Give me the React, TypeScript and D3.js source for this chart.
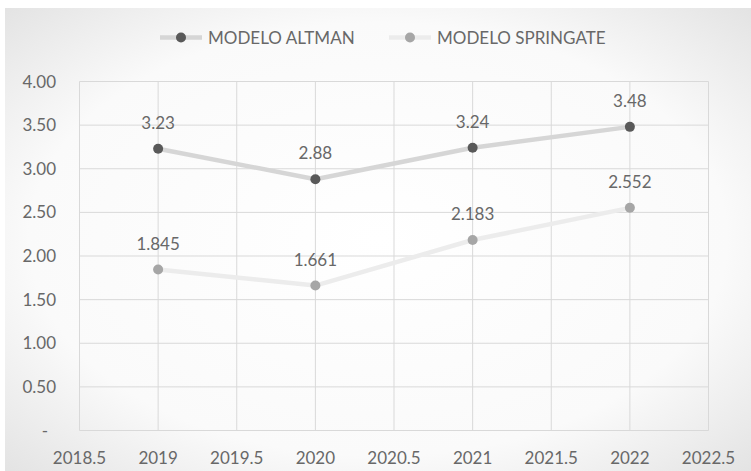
import React from "react";
import * as d3 from "d3";

const years = [2019, 2020, 2021, 2022];
const altman = [3.23, 2.88, 3.24, 3.48];
const springate = [1.845, 1.661, 2.183, 2.552];
const altmanLabels = ["3.23", "2.88", "3.24", "3.48"];
const springateLabels = ["1.845", "1.661", "2.183", "2.552"];
const yTicks = [0, 0.5, 1, 1.5, 2, 2.5, 3, 3.5, 4];
const xTicks = [2018.5, 2019, 2019.5, 2020, 2020.5, 2021, 2021.5, 2022, 2022.5];
const seriesNames = ["MODELO ALTMAN", "MODELO SPRINGATE"];

const W = 751;
const H = 471;
const FONT = "Lato, 'Open Sans', sans-serif";
const TEXT = "#686868";

export default function App() {
  const x = d3.scaleLinear().domain([2018.5, 2022.5]).range([79.5, 708.5]);
  const y = d3.scaleLinear().domain([0, 4]).range([430.5, 81.5]);
  const line = d3
    .line<number>()
    .x((_, i) => x(years[i]))
    .y((d) => y(d));

  const series = [
    { name: seriesNames[0], values: altman, labels: altmanLabels, line: "#d6d6d6", dot: "#595959" },
    { name: seriesNames[1], values: springate, labels: springateLabels, line: "#ececec", dot: "#a6a6a6" },
  ];

  const legend = [
    { lx: 160, tx: 208 },
    { lx: 389, tx: 437 },
  ];
  const LY = 37.5;

  return (
    <svg
      width={W}
      height={H}
      style={{ position: "absolute", left: 0, top: 0, fontFamily: FONT }}
    >
      <defs>
        <radialGradient id="bg" cx="50%" cy="50%" r="72%">
          <stop offset="0%" stopColor="#ffffff" />
          <stop offset="65%" stopColor="#fafafa" />
          <stop offset="100%" stopColor="#e2e2e2" />
        </radialGradient>
      </defs>
      <rect x={0} y={0} width={W} height={H} fill="#ffffff" />
      <rect x={5} y={8} width={W - 5} height={H - 8} fill="url(#bg)" />

      {/* grid */}
      {yTicks.map((t) => (
        <line key={"gy" + t} x1={x(2018.5)} x2={x(2022.5)} y1={y(t)} y2={y(t)} stroke="#d9d9d9" strokeWidth={1} />
      ))}
      {xTicks.map((t) => (
        <line key={"gx" + t} x1={x(t)} x2={x(t)} y1={y(0)} y2={y(4)} stroke="#d9d9d9" strokeWidth={1} />
      ))}

      {/* y labels */}
      {yTicks.map((t) => (
        <text key={"yl" + t} x={t === 0 ? 48 : 56} y={y(t)} dy="0.36em" textAnchor="end" fontSize={17} fill={TEXT}>
          {t === 0 ? "-" : d3.format(".2f")(t)}
        </text>
      ))}
      {/* x labels */}
      {xTicks.map((t) => (
        <text key={"xl" + t} x={x(t)} y={458} dy="0.36em" textAnchor="middle" fontSize={17} fill={TEXT}>
          {String(t)}
        </text>
      ))}

      {/* series */}
      {series.map((s) => (
        <g key={s.name}>
          <path d={line(s.values) || ""} fill="none" stroke={s.line} strokeWidth={4.5} strokeLinejoin="round" />
          {s.values.map((v, i) => (
            <circle key={i} cx={x(years[i])} cy={y(v)} r={5} fill={s.dot} />
          ))}
          {s.values.map((v, i) => (
            <text key={"l" + i} x={x(years[i])} y={y(v) - 26} dy="0.36em" textAnchor="middle" fontSize={17} fill={TEXT}>
              {s.labels[i]}
            </text>
          ))}
        </g>
      ))}

      {/* legend */}
      {series.map((s, i) => (
        <g key={"lg" + i}>
          <line x1={legend[i].lx} x2={legend[i].lx + 42} y1={LY} y2={LY} stroke={s.line} strokeWidth={4.5} />
          <circle cx={legend[i].lx + 21} cy={LY} r={5} fill={s.dot} />
          <text x={legend[i].tx} y={LY} dy="0.36em" fontSize={17} fill={TEXT}>
            {s.name}
          </text>
        </g>
      ))}
    </svg>
  );
}
